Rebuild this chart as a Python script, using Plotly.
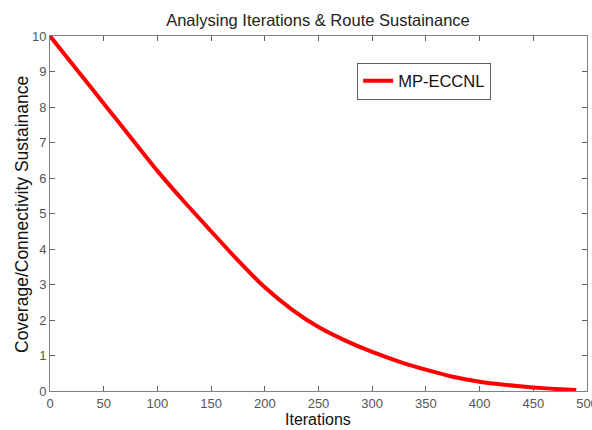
import plotly.graph_objects as go

iterations = [0, 25, 50, 75, 100, 125, 150, 175, 200, 225, 250, 275, 300, 325, 350, 375, 400, 425, 450, 475, 490]
sustainance = [10.0, 9.05, 8.1, 7.15, 6.2, 5.33, 4.5, 3.68, 2.92, 2.3, 1.8, 1.42, 1.1, 0.83, 0.6, 0.4, 0.26, 0.17, 0.1, 0.05, 0.03]
series_name = "MP-ECCNL"
x_ticks = [0, 50, 100, 150, 200, 250, 300, 350, 400, 450, 500]
y_ticks = [0, 1, 2, 3, 4, 5, 6, 7, 8, 9, 10]

font_family = "Liberation Sans, Arial, sans-serif"
narrow_family = "Liberation Sans Narrow, Arial Narrow, Liberation Sans, sans-serif"

fig = go.Figure()
fig.add_trace(go.Scatter(
    x=iterations, y=sustainance, mode="lines", name=series_name,
    line=dict(color="#ff0000", width=4, shape="spline", smoothing=0.6),
))

axis_common = dict(
    showline=True, linecolor="#808080", linewidth=1, mirror="ticks",
    ticks="inside", ticklen=5, tickcolor="#606060",
    showgrid=False, zeroline=False, automargin=False,
    ticklabeloverflow="allow",
    tickfont=dict(family=narrow_family, size=13, color="#555555"),
)

fig.update_layout(
    width=592, height=430,
    margin=dict(l=50, r=5, t=36, b=39),
    paper_bgcolor="white", plot_bgcolor="white",
    title=dict(text="Analysing Iterations &amp; Route Sustainance", x=318 / 592, xanchor="center",
               y=1 - 20 / 430, yanchor="middle",
               font=dict(family=font_family, size=16.5, color="#222222")),
    xaxis=dict(range=[0, 500], tickvals=x_ticks, **axis_common),
    yaxis=dict(range=[0, 10], tickvals=y_ticks, **axis_common),
    showlegend=True,
    legend=dict(x=0.572, y=0.925, xanchor="left", yanchor="top",
                bgcolor="white", bordercolor="#606060", borderwidth=1,
                font=dict(family=font_family, size=16.5, color="#111111"),
                itemwidth=30),
    annotations=[
        dict(text="Iterations", xref="paper", yref="paper", x=(318 - 50) / 537, y=-(420 - 391) / 355,
             xanchor="center", yanchor="middle", showarrow=False,
             font=dict(family=font_family, size=16, color="#111111")),
        dict(text="Coverage/Connectivity Sustainance", xref="paper", yref="paper",
             x=-(50 - 22) / 537, y=(391 - 215) / 355, textangle=-90,
             xanchor="center", yanchor="middle", showarrow=False,
             font=dict(family=font_family, size=17.5, color="#111111")),
    ],
)

fig.write_html("out.html", config={"displayModeBar": False},
               post_script="document.body.style.margin='0';document.body.style.overflow='hidden';")
